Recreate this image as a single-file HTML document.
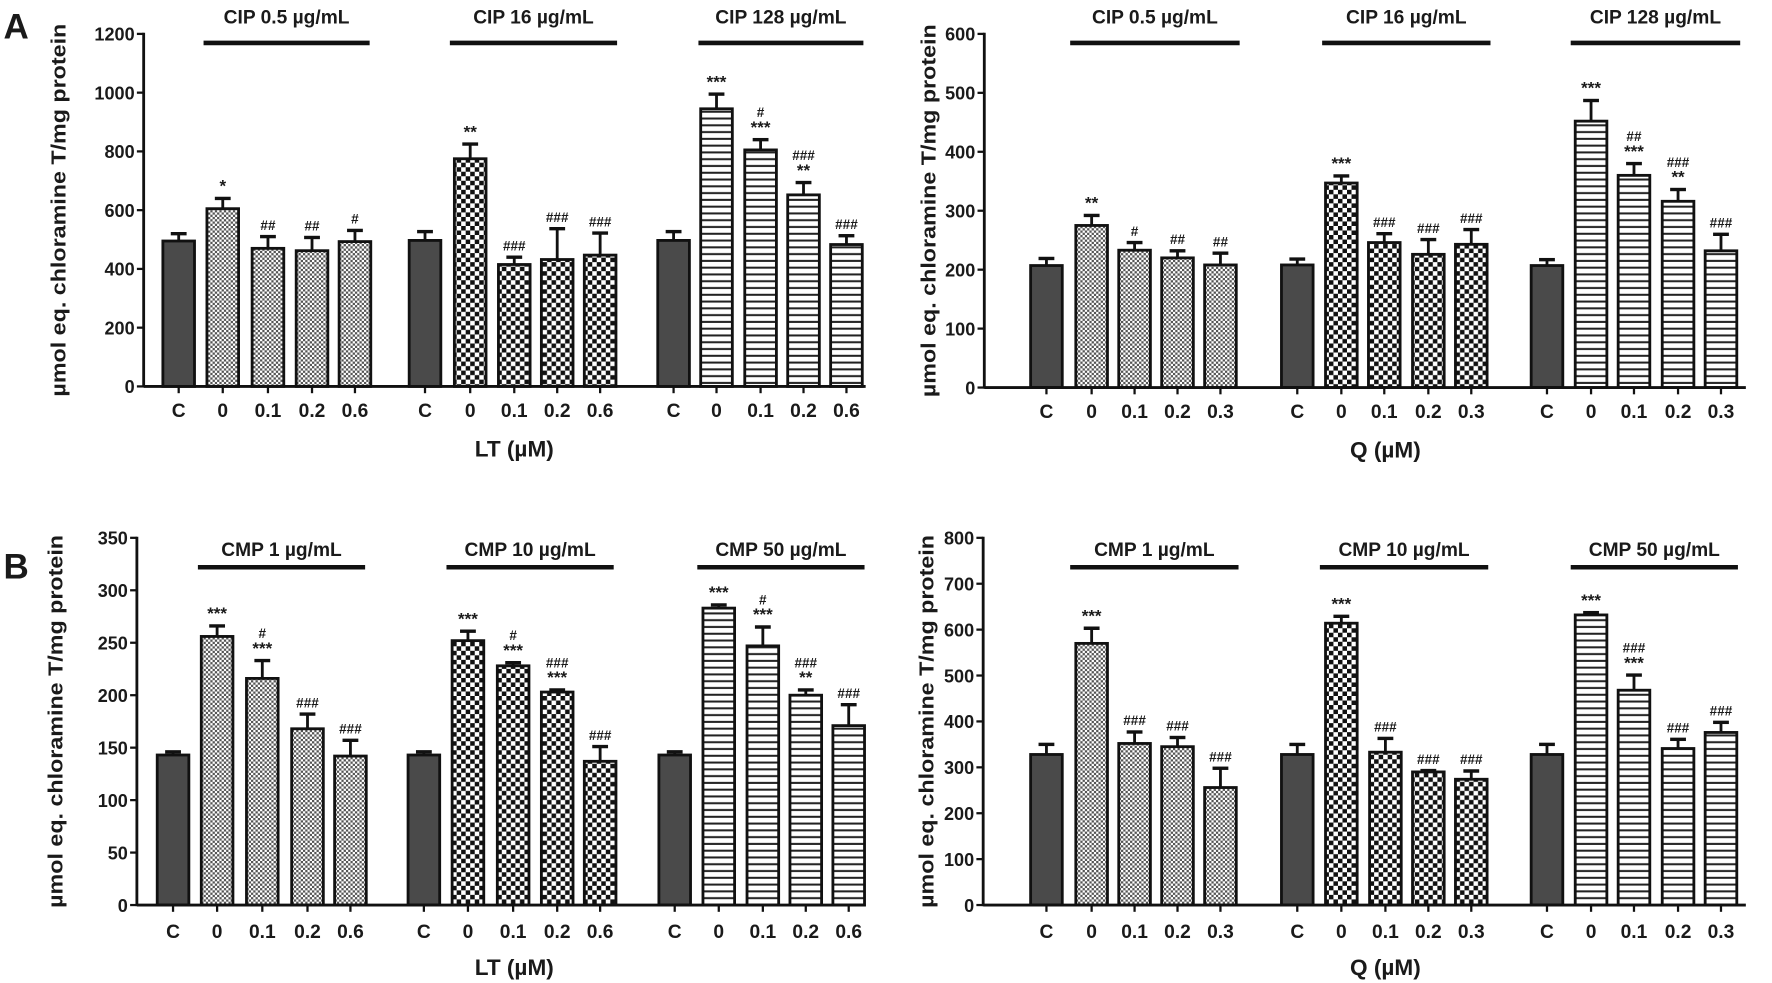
<!DOCTYPE html>
<html><head><meta charset="utf-8"><style>
html,body{margin:0;padding:0;background:#fff;}
svg{display:block;}
text{font-family:"Liberation Sans",Arial,sans-serif;font-weight:bold;fill:#1a1a1a;}
</style></head><body>
<svg id="s" width="1772" height="983" viewBox="0 0 1568 870" xmlns="http://www.w3.org/2000/svg">
<defs>
<pattern id="p1" width="4" height="4" patternUnits="userSpaceOnUse"><rect width="4" height="4" fill="#fff"/><rect width="2" height="2" fill="#555"/><rect x="2" y="2" width="2" height="2" fill="#555"/></pattern>
<pattern id="p2" width="8" height="8" patternUnits="userSpaceOnUse"><rect width="8" height="8" fill="#fff"/><rect width="4" height="4" fill="#111"/><rect x="4" y="4" width="4" height="4" fill="#111"/></pattern>
<pattern id="p3" width="6" height="6" patternUnits="userSpaceOnUse"><rect width="6" height="6" fill="#fff"/><rect y="2" width="6" height="1.8" fill="#222"/></pattern>
</defs>
<text x="3" y="34" font-size="31" fill="#000">A</text>
<text x="3" y="512" font-size="31" fill="#000">B</text>
</svg>
<script>
const NS="http://www.w3.org/2000/svg",S=document.getElementById('s');
function el(t,a,txt){const e=document.createElementNS(NS,t);for(const k in a)e.setAttribute(k,a[k]);if(txt!==undefined)e.textContent=txt;S.appendChild(e);return e;}
const panels=[
{ax:127,y0:342,yt:30,max:1200,step:200,xe:766,ylx:58,tly:362,xl:"LT (µM)",xlx:455,xly:404,ty:21,ly:38,
 titles:["CIP 0.5 µg/mL","CIP 16 µg/mL","CIP 128 µg/mL"],lines:[[180,327],[398,546],[618,764]],
 labels:["C","0","0.1","0.2","0.6"],
 cx:[[158,197,237,276,314],[376,416,455,493,531],[596,634,673,711,749]],
 d:[[[495,25],[605,35],[470,40],[462,45],[493,38]],[[497,30],[775,50],[415,25],[432,105],[447,75]],[[497,30],[945,50],[805,35],[652,42],[483,30]]],
 an:[[[],["*"],["##"],["##"],["#"]],[[],["**"],["###"],["###"],["###"]],[[],["***"],["#","***"],["###","**"],["###"]]]},
{ax:871,y0:343,yt:30,max:600,step:100,xe:1545,ylx:828,tly:363,xl:"Q (µM)",xlx:1226,xly:405,ty:21,ly:38,
 titles:["CIP 0.5 µg/mL","CIP 16 µg/mL","CIP 128 µg/mL"],lines:[[947,1097],[1170,1319],[1390,1540]],
 labels:["C","0","0.1","0.2","0.3"],
 cx:[[926,966,1004,1042,1080],[1148,1187,1225,1264,1302],[1369,1408,1446,1485,1523]],
 d:[[[207,12],[275,17],[233,13],[220,12],[208,20]],[[208,10],[347,12],[246,15],[226,25],[243,25]],[[207,10],[452,35],[360,20],[316,20],[232,28]]],
 an:[[[],["**"],["#"],["##"],["##"]],[[],["***"],["###"],["###"],["###"]],[[],["***"],["##","***"],["###","**"],["###"]]]},
{ax:121,y0:801,yt:476,max:350,step:50,xe:766,ylx:55,tly:823,xl:"LT (µM)",xlx:455,xly:863,ty:492,ly:502,
 titles:["CMP 1 µg/mL","CMP 10 µg/mL","CMP 50 µg/mL"],lines:[[175,323],[395,543],[617,765]],
 labels:["C","0","0.1","0.2","0.6"],
 cx:[[153,192,232,272,310],[375,414,454,493,531],[597,636,675,713,751]],
 d:[[[143,3],[256,10],[216,17],[168,14],[142,15]],[[143,3],[252,9],[228,3],[203,2],[137,14]],[[143,3],[283,3],[247,18],[200,5],[171,20]]],
 an:[[[],["***"],["#","***"],["###"],["###"]],[[],["***"],["#","***"],["###","***"],["###"]],[[],["***"],["#","***"],["###","**"],["###"]]]},
{ax:870,y0:801,yt:476,max:800,step:100,xe:1545,ylx:826,tly:823,xl:"Q (µM)",xlx:1226,xly:863,ty:492,ly:502,
 titles:["CMP 1 µg/mL","CMP 10 µg/mL","CMP 50 µg/mL"],lines:[[947,1096],[1168,1317],[1390,1538]],
 labels:["C","0","0.1","0.2","0.3"],
 cx:[[926,966,1004,1042,1080],[1148,1187,1226,1264,1302],[1369,1408,1446,1485,1523]],
 d:[[[328,22],[570,33],[352,25],[345,20],[256,42]],[[328,22],[614,15],[333,30],[290,3],[274,18]],[[328,22],[632,5],[468,33],[341,20],[376,22]]],
 an:[[[],["***"],["###"],["###"],["###"]],[[],["***"],["###"],["###"],["###"]],[[],["***"],["###","***"],["###"],["###"]]]}
];
const W=28;
panels.forEach(p=>{
 const Y=v=>p.y0-(v/p.max)*(p.y0-p.yt);
 p.cx.forEach((g,gi)=>g.forEach((x,bi)=>{
  const [v,e]=p.d[gi][bi];const yt=Y(v),ye=Y(v+e);
  el('line',{x1:x,x2:x,y1:yt,y2:ye,stroke:'#111','stroke-width':2.5});
  el('line',{x1:x-7,x2:x+7,y1:ye,y2:ye,stroke:'#111','stroke-width':3});
  el('rect',{x:x-W/2,y:yt,width:W,height:p.y0-yt,fill:bi==0?'#4a4a4a':'url(#p'+(gi+1)+')',stroke:'#111','stroke-width':2.5});
  const a=p.an[gi][bi];
  a.slice().reverse().forEach((t,k)=>{
   const isHash=t[0]=='#';
   el('text',{x:x,y:ye-6-k*14,'text-anchor':'middle','font-size':isHash?12:15,'font-weight':isHash?'normal':'bold'},t);
  });
  el('line',{x1:x,x2:x,y1:p.y0,y2:p.y0+6,stroke:'#111','stroke-width':2});
  el('text',{x:x,y:p.tly+7,'text-anchor':'middle','font-size':17},p.labels[bi]);
 }));
 el('line',{x1:p.ax,x2:p.ax,y1:p.yt-1,y2:p.y0+1,stroke:'#111','stroke-width':2.5});
 el('line',{x1:p.ax,x2:p.xe,y1:p.y0,y2:p.y0,stroke:'#111','stroke-width':2.5});
 for(let v=0;v<=p.max+0.001;v+=p.step){const y=Y(v);
  el('line',{x1:p.ax-6,x2:p.ax,y1:y,y2:y,stroke:'#111','stroke-width':2});
  el('text',{x:p.ax-8,y:y+6,'text-anchor':'end','font-size':16},String(v));}
 const ym=(p.y0+p.yt)/2;
 el('text',{x:p.ylx,y:ym,'text-anchor':'middle','font-size':18,textLength:330,lengthAdjust:'spacingAndGlyphs',transform:'rotate(-90 '+p.ylx+' '+ym+')'},"µmol eq. chloramine T/mg protein");
 el('text',{x:p.xlx,y:p.xly,'text-anchor':'middle','font-size':20},p.xl);
 p.lines.forEach((l,i)=>{
  el('line',{x1:l[0],x2:l[1],y1:p.ly,y2:p.ly,stroke:'#111','stroke-width':4});
  el('text',{x:(l[0]+l[1])/2,y:p.ty,'text-anchor':'middle','font-size':17},p.titles[i]);
 });
});
</script>
</body></html>
